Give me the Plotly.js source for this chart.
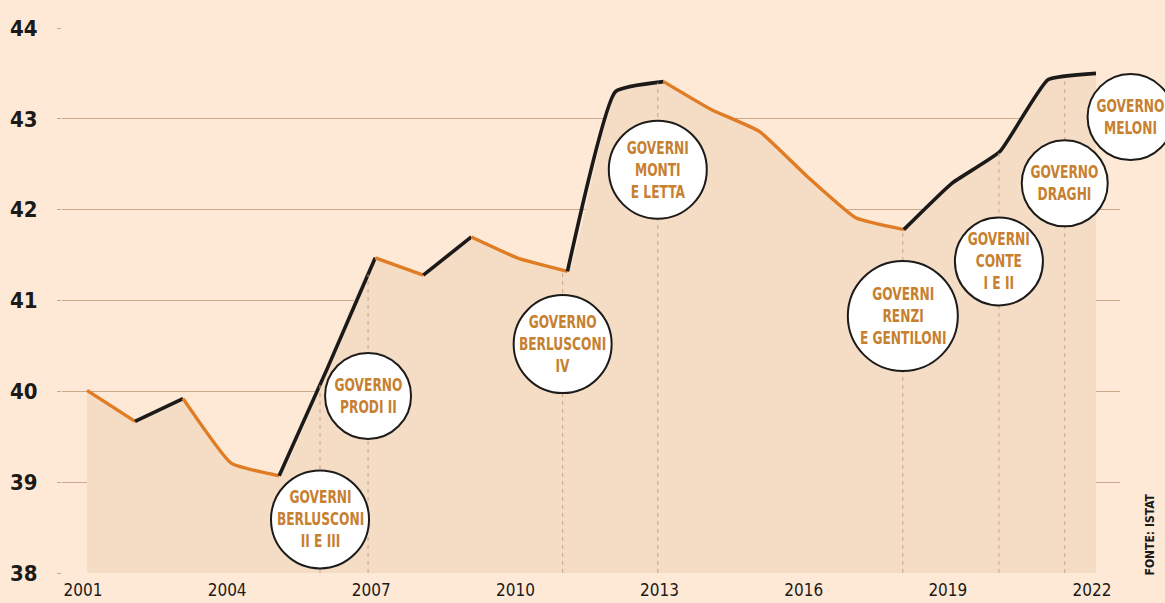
<!DOCTYPE html>
<html>
<head>
<meta charset="utf-8">
<script src="https://cdn.plot.ly/plotly-3.0.1.min.js"></script>
<style>
html,body{margin:0;padding:0;background:#fde9d6;}
#chart{width:1165px;height:603px;}
.gov-label text, .annotation-text.gov{ }
</style>
</head>
<body>
<div id="chart"></div>
<script>
// ---- data ----
const years = [2001,2002,2003,2004,2005,2006,2007,2008,2009,2010,2011,2012,2013,2014,2015,2016,2017,2018,2019,2020,2021,2022];
const values = [40.01,39.67,39.92,39.21,39.07,40.25,41.47,41.28,41.70,41.46,41.32,43.30,43.41,43.10,42.86,42.36,41.91,41.78,42.29,42.64,43.43,43.50];
const tickYears = [2001,2004,2007,2010,2013,2016,2019,2022];
const yTicks = [38,39,40,41,42,43,44];
const govLabels = [
  "GOVERNI<br>BERLUSCONI<br>II E III",
  "GOVERNO<br>PRODI II",
  "GOVERNO<br>BERLUSCONI<br>IV",
  "GOVERNI<br>MONTI<br>E LETTA",
  "GOVERNI<br>RENZI<br>E GENTILONI",
  "GOVERNI<br>CONTE<br>I E II",
  "GOVERNO<br>DRAGHI",
  "GOVERNO<br>MELONI"
];
const govStart = [2005.85, 2006.85, 2010.9, 2012.88, 2017.98, 2019.98, 2021.35, 2022.72];
const govCircleY = [38.59, 39.95, 40.52, 42.44, 40.83, 41.43, 42.29, 43.02];
const govRadius = [49, 43, 49, 49, 55, 44, 43, 43];
const source = "FONTE: ISTAT";

// ---- style ----
const BG = "#fde9d6", FILL = "#f5dcc5", ORANGE = "#e07d24", BLACK = "#1c1a19",
      GRID = "#c9a98c", TXT = "#c7802f";
const FONT = "'Liberation Sans Narrow', 'DejaVu Sans Condensed', 'Roboto Condensed', sans-serif";
const xr = [2000.48, 2022.5], yr = [38, 44];

function interp(x){
  for (let i=0;i<years.length-1;i++){
    if (x>=years[i] && x<=years[i+1]){
      const t=(x-years[i])/(years[i+1]-years[i]);
      return values[i]+t*(values[i+1]-values[i]);
    }
  }
  return values[values.length-1];
}

const traces = [];
traces.push({x: years, y: values, type:'scatter', mode:'lines', line:{width:0, shape:'spline', smoothing:0.4},
  fill:'tozeroy', fillcolor: FILL, hoverinfo:'skip', showlegend:false});

// coloured runs: rising black, falling orange
let start = 0;
for (let i=1;i<years.length;i++){
  const up = values[start+1] >= values[start];
  const last = (i===years.length-1);
  const turns = !last && ((values[i+1]>=values[i]) !== up);
  if (last || turns) {
    traces.push({x: years.slice(start, i+1), y: values.slice(start, i+1), type:'scatter', mode:'lines',
      line:{color: up ? BLACK : ORANGE, width: up ? 3.6 : 3.4, shape:'spline', smoothing:0.4},
      hoverinfo:'skip', showlegend:false});
    start = i;
  }
}

const shapes = [], annotations = [];
govStart.forEach((g)=>{
  if (g <= 2022) {
    shapes.push({type:'line', xref:'x', yref:'y', x0:g, x1:g, y0:38, y1:interp(g),
      line:{color:'#c9a48a', width:1, dash:'4px,4px'}, layer:'above'});
  }
});
govStart.forEach((g,i)=>{
  const r = govRadius[i];
  const px = (g - xr[0])/(xr[1]-xr[0]);
  const py = (govCircleY[i] - yr[0])/(yr[1]-yr[0]);
  shapes.push({type:'circle', xref:'paper', yref:'paper', xsizemode:'pixel', ysizemode:'pixel',
    xanchor:px, yanchor:py, x0:-r, x1:r, y0:-r, y1:r,
    fillcolor:'#ffffff', line:{color:'#1d1b1a', width:2}, layer:'above'});
  annotations.push({xref:'paper', yref:'paper', x:px, y:py, text:govLabels[i], showarrow:false,
    xanchor:'center', yanchor:'middle', align:'center',
    font:{family:FONT, size:17, color:TXT, weight:'bold'}});
});
annotations.push({xref:'paper', yref:'paper', x:1.028, y:0.07, text:'<b>'+source+'</b>', textangle:-90,
  showarrow:false, xanchor:'center', yanchor:'middle',
  font:{family:FONT, size:12, color:'#1c1a19'}});

const layout = {
  width:1165, height:603,
  paper_bgcolor: BG, plot_bgcolor: BG,
  margin:{l:62, r:45, t:28, b:30},
  showlegend:false,
  xaxis:{range:xr, tickvals:tickYears, ticktext:tickYears.map(String), showgrid:false, zeroline:false,
    showline:false, ticks:'', tickfont:{family:FONT, size:17, color:'#1c1a19'}, ticklabelshift:-4,
    ticklabelstandoff:5, fixedrange:true},
  yaxis:{range:yr, tickvals:yTicks, ticktext:yTicks.map(String), showgrid:true, gridcolor:GRID, gridwidth:1,
    zeroline:false, showline:false, ticks:'outside', ticklen:4, tickcolor:GRID,
    tickfont:{family:FONT, size:22, color:'#1c1a19', weight:'bold'}, ticklabelstandoff:15, fixedrange:true},
  shapes: shapes,
  annotations: annotations
};

Plotly.newPlot('chart', traces, layout, {staticPlot:true, displayModeBar:false}).then(function(gd){
  // condense the circle labels horizontally (narrow display face)
  const n = govLabels.length;
  const texts = gd.querySelectorAll('.annotation .annotation-text');
  texts.forEach(function(t, idx){
    if (idx < n) {
      t.style.transformBox = 'fill-box';
      t.style.transformOrigin = 'center';
      t.style.transform = 'scaleX(0.8)';
    }
  });
});
</script>
</body>
</html>
